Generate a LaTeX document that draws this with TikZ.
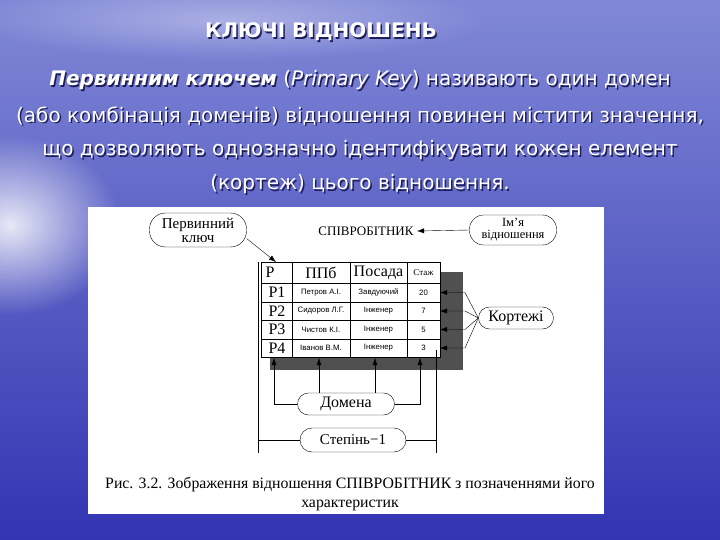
\documentclass[tikz,border=0pt]{standalone}
\usepackage{fontspec}
\setmainfont{Liberation Serif}
\newfontfamily\slidefont{DejaVu Sans}
\newfontfamily\tabfont{Liberation Sans}
\usetikzlibrary{arrows.meta,fadings}

\definecolor{skytop}{RGB}{128,136,214}
\definecolor{skybot}{RGB}{50,52,178}
\definecolor{shadowblue}{RGB}{30,30,90}
\definecolor{tabshade}{RGB}{80,80,80}

\tikzfading[name=glow, inner color=transparent!0, outer color=transparent!100]

\tikzset{
  slide/.style={text=white, inner sep=0pt},
  slideshadow/.style={text=shadowblue, inner sep=0pt},
  oval/.style={draw, rounded corners=#1, inner sep=2pt},
  oval/.default=10pt,
  cell/.style={inner sep=0pt, font=\tabfont\fontsize{7.8}{8}\selectfont},
  big/.style={inner sep=0pt, font=\fontsize{16}{17}\selectfont},
}

\newcommand{\slideline}[4]{%
  \node[slideshadow, font=#4] (#1s) at (361.5,#2+1.5) {#3};
  \node[slide, font=#4] (#1) at (360,#2) {#3};
}

\begin{document}
\begin{tikzpicture}[x=1pt, y=-1pt, >={Latex[length=7pt,width=5pt]}, font=\small]
  \useasboundingbox (0,0) rectangle (720,540);

  \shade[top color=skytop, bottom color=skybot] (0,0) rectangle (720,540);
  \fill[white, path fading=glow, opacity=0.85] (10,225) ellipse (110 and 90);
  \fill[white, path fading=glow, opacity=0.35] (230,20) ellipse (260 and 40);

  % title and text
  \node[slideshadow, font=\slidefont\bfseries\fontsize{20}{22}\selectfont] (titles) at (322.5,33.5) {КЛЮЧІ ВІДНОШЕНЬ};
  \node[slide, font=\slidefont\bfseries\fontsize{20}{22}\selectfont] (title) at (321,32) {КЛЮЧІ ВІДНОШЕНЬ};
  \slideline{la}{80}{\textbf{\textit{Первинним ключем}} (\textit{Primary Key}) називають один домен}{\slidefont\fontsize{20}{22}\selectfont}
  \slideline{lb}{116}{(або комбінація доменів) відношення повинен містити значення,}{\slidefont\fontsize{20}{22}\selectfont}
  \slideline{lc}{150}{що дозволяють однозначно ідентифікувати кожен елемент}{\slidefont\fontsize{20}{22}\selectfont}
  \slideline{ld}{184}{(кортеж) цього відношення.}{\slidefont\fontsize{20}{22}\selectfont}

  \fill[white] (88,207) rectangle (604,514);

  % relation table
  \fill[tabshade] (270,272) rectangle (463,370);
  \fill[white] (261,262) rectangle (440,357);
  \draw[line width=0.8pt] (261,262) rectangle (440,357);
  \foreach \x in {292,350,407}
    \draw (\x,262) -- (\x,357);
  \foreach \y in {283,302,320,339}
    \draw (261,\y) -- (440,\y);

  \node[big] (hp) at (270,272.5) {Р};
  \node[big] (hn) at (321,272.5) {ППб};
  \node[big] (hpos) at (378.5,272.5) {Посада};
  \node[inner sep=0pt, font=\fontsize{9}{10}\selectfont] (hst) at (423.5,273) {Стаж};

  \foreach \i/\y/\nm/\pos/\st in {1/292.5/Петров А.І./Завдуючий/20,
                                   2/311/Сидоров Л.Г./Інженер/7,
                                   3/329.5/Чистов К.І./Інженер/5,
                                   4/348/Іванов В.М./Інженер/3} {
    \node[big] (p\i) at (277,\y) {Р\i};
    \node[cell] (n\i) at (321,\y) {\nm};
    \node[cell] (s\i) at (378.5,\y) {\pos};
    \node[cell] (t\i) at (423.5,\y) {\st};
    \coordinate (r\i) at (440,\y);
    \coordinate (f\i) at (465,\y);
  }

  % labels round the table
  \node[font=\fontsize{13}{14}\selectfont] (name) at (366,231) {СПІВРОБІТНИК};
  \node[oval=16pt, minimum width=97pt, minimum height=34pt, align=center,
        font=\fontsize{15}{14}\selectfont] (pk) at (198,230) {Первинний\\ключ};
  \node[oval=14pt, minimum width=87pt, minimum height=30pt, align=center,
        font=\fontsize{12.5}{12}\selectfont] (rn) at (513,230) {Ім'я\\відношення};
  \node[oval=11pt, minimum width=75pt, minimum height=22pt,
        font=\fontsize{16}{17}\selectfont] (kort) at (516,318) {Кортежі};
  \node[oval=11pt, minimum width=97pt, minimum height=22pt,
        font=\fontsize{16}{17}\selectfont] (dom) at (346,404) {Домена};
  \node[oval=12pt, minimum width=106pt, minimum height=24pt,
        font=\fontsize{15}{16}\selectfont] (deg) at (353,440) {Степінь−1};

  \coordinate (key) at (276,262);
  \draw[->] (pk.-10) -- (key);
  \draw[->] (rn.west) -- (name.east);

  \foreach \i in {1,...,4}
    \draw[->] (kort.west) -- (f\i) -- (r\i);

  \coordinate (d1) at (274,358);
  \coordinate (d2) at (319,358);
  \coordinate (d3) at (375,358);
  \coordinate (d4) at (420,358);
  \draw[->] (dom.west) -| (d1);
  \draw[->] (d2 |- dom.north) -- (d2);
  \draw[->] (d3 |- dom.north) -- (d3);
  \draw[->] (dom.east) -| (d4);

  \coordinate (gl1) at (258,262);
  \coordinate (gl2) at (258,453);
  \coordinate (gr1) at (436,350);
  \coordinate (gr2) at (436,453);
  \draw (gl1) -- (gl2);
  \draw (gr1) -- (gr2);
  \draw (deg.west) -- (deg.west -| gl1);
  \draw (deg.east) -- (deg.east -| gr1);

  \node[font=\fontsize{15.8}{17}\selectfont] (cap1) at (350,485) {Рис. 3.2. Зображення відношення СПІВРОБІТНИК з позначеннями його};
  \node[font=\fontsize{15.8}{17}\selectfont] (cap2) at (350,505) {характеристик};
\end{tikzpicture}
\end{document}
